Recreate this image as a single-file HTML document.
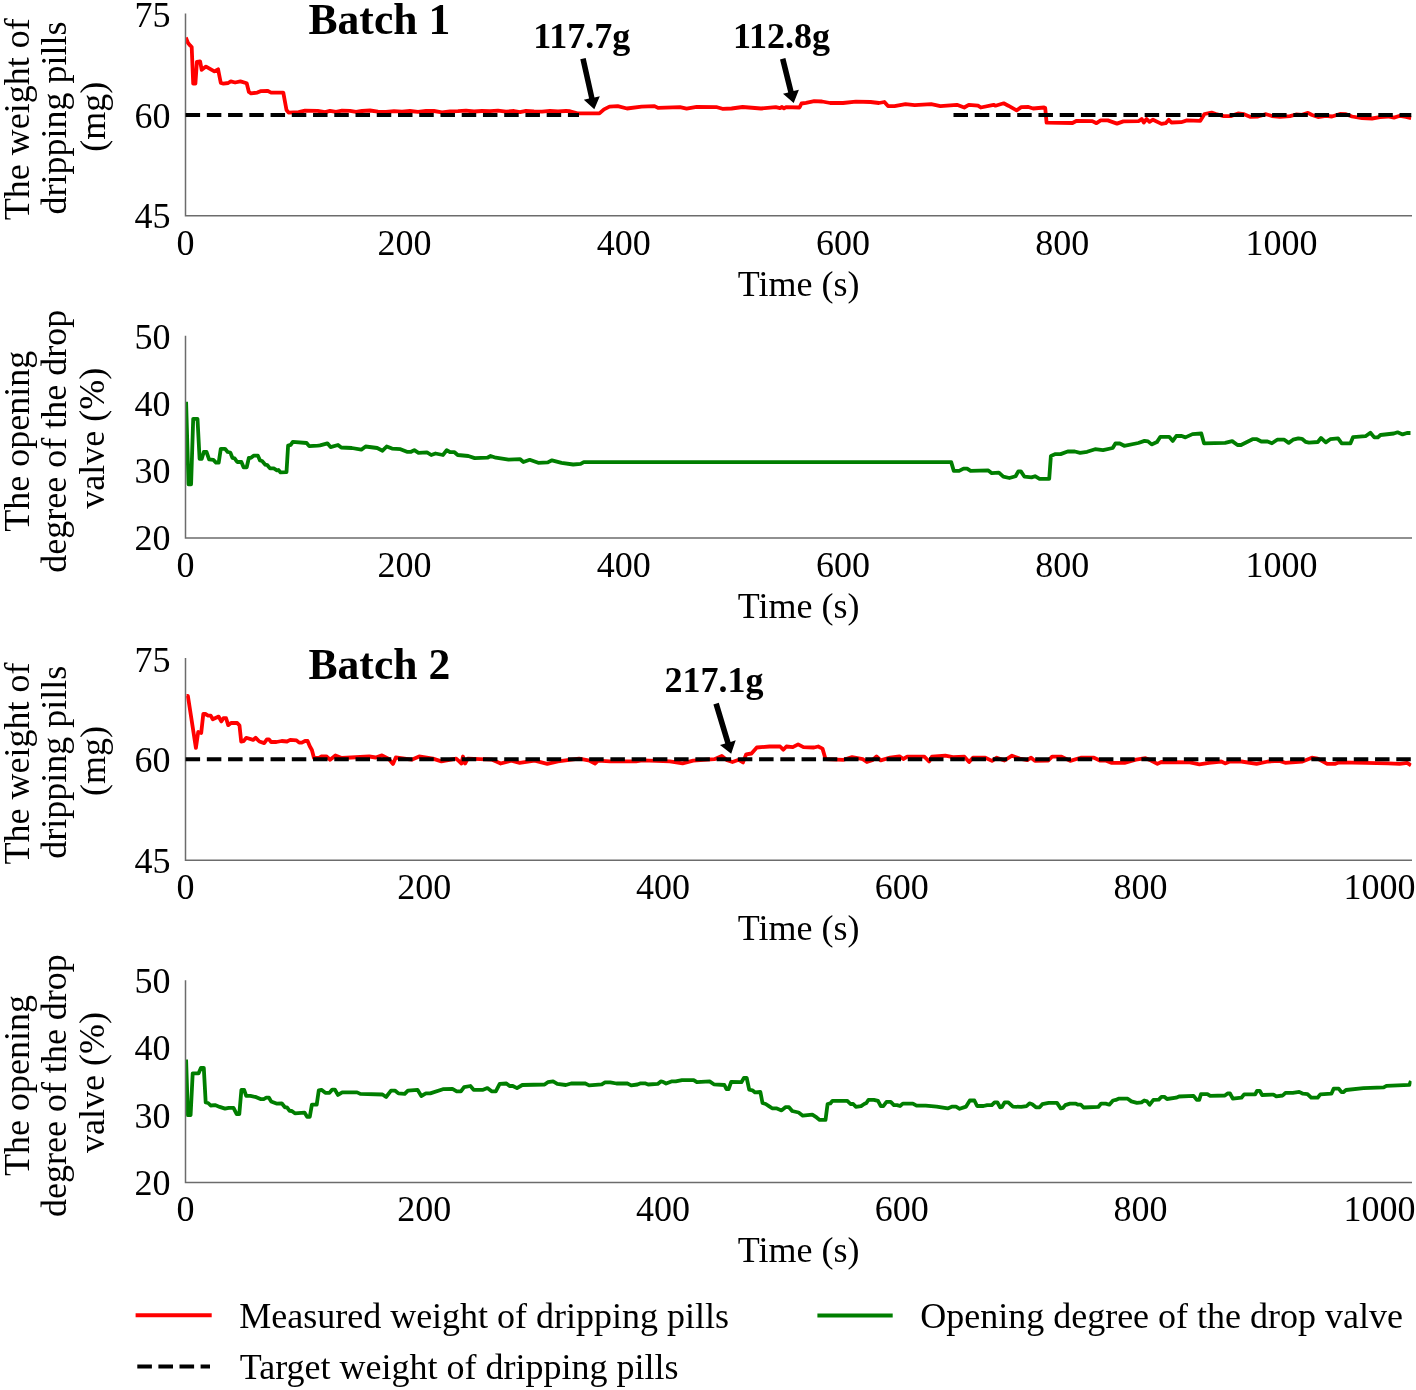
<!DOCTYPE html>
<html><head><meta charset="utf-8"><title>Figure</title>
<style>html,body{margin:0;padding:0;background:#fff}svg{display:block}</style></head>
<body>
<svg width="1416" height="1390" viewBox="0 0 1416 1390" font-family="Liberation Serif, Times New Roman, serif" font-size="36" fill="#000">
<rect width="1416" height="1390" fill="#fff"/>
<defs><clipPath id="pc"><rect x="186.1" y="0" width="1225.4" height="1390"/></clipPath></defs>
<path d="M185.5 13.6 V215.8 H1412.0" fill="none" stroke="#6c6c6c" stroke-width="1.5"/>
<path d="M185.5 335.8 V537.9 H1412.0" fill="none" stroke="#6c6c6c" stroke-width="1.5"/>
<path d="M185.5 658.0 V860.2 H1412.0" fill="none" stroke="#6c6c6c" stroke-width="1.5"/>
<path d="M185.5 980.2 V1182.4 H1412.0" fill="none" stroke="#6c6c6c" stroke-width="1.5"/>
<text x="170.5" y="27.3" text-anchor="end">75</text>
<text x="170.5" y="127.7" text-anchor="end">60</text>
<text x="170.5" y="228.2" text-anchor="end">45</text>
<text x="170.5" y="671.5999999999999" text-anchor="end">75</text>
<text x="170.5" y="772.0" text-anchor="end">60</text>
<text x="170.5" y="872.5" text-anchor="end">45</text>
<text x="170.5" y="349.1" text-anchor="end">50</text>
<text x="170.5" y="416.1" text-anchor="end">40</text>
<text x="170.5" y="483.2" text-anchor="end">30</text>
<text x="170.5" y="550.2" text-anchor="end">20</text>
<text x="170.5" y="993.4" text-anchor="end">50</text>
<text x="170.5" y="1060.4" text-anchor="end">40</text>
<text x="170.5" y="1127.5" text-anchor="end">30</text>
<text x="170.5" y="1194.5" text-anchor="end">20</text>
<text x="185.4" y="254.8" text-anchor="middle">0</text>
<text x="404.6" y="254.8" text-anchor="middle">200</text>
<text x="623.8" y="254.8" text-anchor="middle">400</text>
<text x="843.0" y="254.8" text-anchor="middle">600</text>
<text x="1062.2" y="254.8" text-anchor="middle">800</text>
<text x="1281.4" y="254.8" text-anchor="middle">1000</text>
<text x="185.4" y="576.8" text-anchor="middle">0</text>
<text x="404.6" y="576.8" text-anchor="middle">200</text>
<text x="623.8" y="576.8" text-anchor="middle">400</text>
<text x="843.0" y="576.8" text-anchor="middle">600</text>
<text x="1062.2" y="576.8" text-anchor="middle">800</text>
<text x="1281.4" y="576.8" text-anchor="middle">1000</text>
<text x="185.4" y="899.2" text-anchor="middle">0</text>
<text x="424.2" y="899.2" text-anchor="middle">200</text>
<text x="663.0" y="899.2" text-anchor="middle">400</text>
<text x="901.8" y="899.2" text-anchor="middle">600</text>
<text x="1140.6" y="899.2" text-anchor="middle">800</text>
<text x="1379.4" y="899.2" text-anchor="middle">1000</text>
<text x="185.4" y="1221.1" text-anchor="middle">0</text>
<text x="424.2" y="1221.1" text-anchor="middle">200</text>
<text x="663.0" y="1221.1" text-anchor="middle">400</text>
<text x="901.8" y="1221.1" text-anchor="middle">600</text>
<text x="1140.6" y="1221.1" text-anchor="middle">800</text>
<text x="1379.4" y="1221.1" text-anchor="middle">1000</text>
<text x="798.6" y="295.6" text-anchor="middle">Time (s)</text>
<text x="798.6" y="617.6" text-anchor="middle">Time (s)</text>
<text x="798.6" y="940.1" text-anchor="middle">Time (s)</text>
<text x="798.6" y="1261.9" text-anchor="middle">Time (s)</text>
<text transform="translate(28.5 119.2) rotate(-90)" text-anchor="middle">The weight of</text>
<text transform="translate(66.2 118) rotate(-90)" text-anchor="middle">dripping pills</text>
<text transform="translate(105.0 116.7) rotate(-90)" text-anchor="middle">(mg)</text>
<text transform="translate(28.5 441.3) rotate(-90)" text-anchor="middle">The opening</text>
<text transform="translate(66.4 441.3) rotate(-90)" text-anchor="middle">degree of the drop</text>
<text transform="translate(103.5 438.2) rotate(-90)" text-anchor="middle">valve (%)</text>
<text transform="translate(28.5 763.5) rotate(-90)" text-anchor="middle">The weight of</text>
<text transform="translate(66.2 762.3) rotate(-90)" text-anchor="middle">dripping pills</text>
<text transform="translate(105.0 761.0) rotate(-90)" text-anchor="middle">(mg)</text>
<text transform="translate(28.5 1085.6) rotate(-90)" text-anchor="middle">The opening</text>
<text transform="translate(66.4 1085.6) rotate(-90)" text-anchor="middle">degree of the drop</text>
<text transform="translate(103.5 1082.5) rotate(-90)" text-anchor="middle">valve (%)</text>
<polyline points="185.8,37.5 187.9,42.8 190.1,45.4 191.7,47.0 193.2,83.6 195.4,83.6 196.9,61.8 200.1,61.3 201.7,69.8 206.0,66.6 214.4,71.4 218.1,69.3 220.8,83.0 223.4,83.6 228.2,83.0 230.8,81.4 235.1,82.5 240.4,81.4 246.7,83.3 248.9,92.0 251.0,93.3 257.3,92.6 260.5,91.2 267.4,90.8 271.1,92.6 283.3,92.6 286.5,110.0 288.6,112.7 298.6,112.2 305.0,110.6 317.7,110.9 325.1,112.2 330.0,110.8 336.0,111.8 342.0,110.6 350.0,110.9 356.0,111.9 362.0,111.0 370.0,110.5 378.0,111.6 386.0,112.0 394.0,111.2 402.0,111.6 410.0,111.0 418.0,111.8 426.0,110.8 434.0,111.0 442.0,112.3 450.0,111.4 458.0,111.2 466.0,110.6 474.0,111.5 482.0,111.0 490.0,111.2 498.0,110.7 506.0,111.6 514.0,111.0 520.0,112.2 526.0,110.8 534.0,111.3 542.0,111.6 550.0,110.9 558.0,111.4 566.0,111.0 570.0,111.2 577.3,113.4 599.4,113.4 604.0,109.4 609.5,106.6 617.7,106.1 627.0,108.5 641.6,106.6 654.5,106.1 658.0,107.9 680.0,107.2 686.6,108.6 696.7,106.8 717.0,107.2 722.4,108.8 731.6,108.5 742.6,107.0 761.0,108.5 775.7,107.2 780.0,108.2 782.0,107.0 784.0,108.4 786.0,107.2 799.5,107.5 801.5,103.5 806.0,102.8 814.2,101.1 822.0,101.5 830.2,103.0 843.0,103.0 855.9,101.7 870.6,102.0 878.9,103.0 884.4,102.0 888.0,106.1 894.5,106.1 905.5,104.2 914.7,105.2 931.2,104.2 940.4,106.1 956.9,104.8 964.2,107.5 968.8,104.8 978.0,105.7 980.8,107.5 993.6,104.8 995.5,105.7 1003.7,103.3 1008.3,105.7 1016.6,110.3 1021.2,107.2 1028.5,107.0 1033.1,108.5 1044.1,107.5 1045.2,108.0 1046.6,122.7 1072.5,123.0 1076.7,120.8 1092.3,121.1 1096.5,123.2 1100.7,120.4 1107.8,120.4 1117.0,123.6 1123.3,121.4 1138.9,121.1 1141.7,119.0 1143.8,122.5 1146.6,119.0 1149.5,121.8 1153.0,119.7 1161.5,123.9 1165.7,123.2 1168.8,119.7 1171.4,122.5 1181.2,122.2 1186.9,120.4 1200.3,120.8 1204.5,114.0 1211.6,112.6 1216.0,114.0 1223.6,116.1 1230.7,116.1 1238.0,113.5 1244.0,114.2 1250.0,116.8 1258.0,116.5 1266.0,114.2 1272.0,116.0 1280.0,116.8 1290.0,116.2 1296.0,114.5 1302.0,114.8 1308.0,112.8 1312.0,115.0 1318.0,117.0 1326.0,115.8 1332.0,116.5 1340.0,114.0 1346.0,114.2 1352.0,116.5 1362.0,118.2 1372.0,118.5 1380.0,117.2 1388.0,116.5 1394.0,117.6 1400.0,115.8 1406.0,116.8 1411.2,118.2" fill="none" stroke="#ff0000" stroke-width="3.8" stroke-linejoin="round" stroke-linecap="butt" clip-path="url(#pc)"/>
<path d="M185.6 114.95 H579" stroke="#000" stroke-width="4" stroke-dasharray="14.5 6.74" fill="none"/>
<path d="M953.5 114.9 H1411.3" stroke="#000" stroke-width="4" stroke-dasharray="14.5 6.74" fill="none"/>
<polyline points="186.1,401.7 188.5,484.3 191.1,484.3 193.2,418.8 197.5,418.8 199.6,458.9 201.7,458.9 203.8,452.0 206.5,452.0 209.1,459.4 213.4,459.9 216.0,462.6 218.7,462.6 220.8,448.8 225.0,448.8 227.7,452.0 230.3,452.5 232.4,457.8 234.6,458.3 237.2,462.0 241.4,462.0 243.6,467.3 246.7,467.3 248.9,457.8 251.0,457.8 253.6,455.7 257.9,455.7 260.0,460.4 262.1,461.0 265.3,464.7 267.4,465.2 270.0,468.4 273.8,468.4 276.9,470.3 278.5,470.0 280.6,472.4 286.5,472.1 288.1,445.6 290.7,444.9 292.8,441.9 306.6,443.0 309.2,446.1 317.7,445.6 320.0,445.4 327.4,443.3 330.6,447.1 338.0,445.0 341.2,447.5 351.8,448.0 361.3,449.7 365.6,446.5 377.2,448.0 382.5,450.7 386.7,446.5 392.0,448.6 400.5,449.2 406.9,451.8 411.1,451.8 414.3,450.1 418.5,452.8 427.0,452.4 431.2,455.0 435.5,453.5 442.9,455.0 446.7,450.3 450.3,452.2 454.5,452.2 457.7,455.0 468.3,456.0 474.7,458.1 487.4,457.7 490.6,456.0 495.8,457.7 508.6,459.6 520.2,459.2 523.4,462.0 529.7,459.8 538.2,462.8 547.8,462.4 552.0,460.3 561.5,462.8 573.2,464.5 580.6,463.9 583.8,462.1 951.2,462.1 953.8,470.9 959.1,470.9 963.5,468.6 967.1,468.6 970.6,470.9 988.3,470.4 991.8,473.2 998.9,472.7 1003.3,476.7 1009.4,478.0 1015.6,476.2 1018.3,471.4 1020.9,471.4 1024.5,476.7 1031.5,477.4 1035.0,476.2 1039.5,478.9 1049.2,478.9 1050.9,455.9 1055.4,454.1 1060.6,454.1 1067.7,451.5 1074.8,451.5 1080.1,452.9 1087.1,451.8 1095.1,449.2 1103.0,450.1 1112.7,448.0 1115.4,443.5 1119.8,443.5 1124.2,445.8 1138.3,443.0 1144.5,440.9 1148.0,441.4 1151.6,444.4 1156.9,442.1 1160.4,436.8 1169.2,436.8 1172.8,440.9 1176.3,436.0 1181.0,435.8 1185.4,437.4 1192.5,434.1 1201.3,433.5 1204.0,443.3 1225.1,442.9 1232.2,441.1 1237.5,445.0 1241.0,445.0 1252.5,439.2 1256.9,439.2 1261.3,441.5 1267.5,441.5 1271.9,443.3 1277.2,439.7 1284.3,439.7 1288.7,442.9 1293.1,439.7 1298.4,438.3 1301.9,438.8 1305.5,441.8 1309.0,442.7 1317.8,442.0 1321.0,438.0 1325.8,442.4 1330.2,439.2 1338.1,438.3 1341.7,443.3 1350.5,443.3 1353.1,437.1 1365.5,436.2 1370.4,432.7 1374.3,437.4 1377.9,437.4 1380.5,435.0 1393.8,433.5 1397.6,432.3 1402.6,434.4 1407.0,433.0 1410.5,433.0" fill="none" stroke="#007e00" stroke-width="3.8" stroke-linejoin="round" stroke-linecap="butt" clip-path="url(#pc)"/>
<polyline points="186.5,696.0 187.9,696.0 195.9,747.9 198.2,732.0 201.2,733.0 203.3,714.0 205.4,714.0 208.1,715.6 210.7,715.6 212.8,719.3 218.7,716.6 221.3,721.4 223.4,718.2 226.1,718.2 228.2,725.1 231.4,722.8 237.2,723.0 239.5,725.6 241.2,741.5 243.6,741.2 246.2,737.8 253.1,739.9 255.7,737.8 259.4,741.5 264.2,743.1 266.9,739.4 269.0,739.4 271.1,742.0 276.4,742.0 281.7,741.0 287.0,741.5 290.2,739.9 296.5,740.4 299.2,742.6 301.8,742.6 305.0,741.0 307.6,741.0 309.8,746.3 311.9,750.0 314.0,757.9 318.8,757.9 321.9,756.3 326.2,756.3 330.1,759.7 335.4,755.4 341.8,758.0 369.3,756.5 375.7,757.5 382.0,755.4 388.4,758.6 393.0,763.9 395.8,757.5 411.7,759.7 419.1,756.5 432.9,758.6 441.4,761.4 456.2,758.6 461.5,763.5 463.0,756.5 465.1,763.5 467.8,758.6 492.2,759.7 500.7,763.5 511.3,760.7 519.7,762.8 534.6,760.7 547.3,763.9 557.9,761.4 579.1,758.6 589.7,760.7 595.0,763.5 598.1,760.7 610.0,761.4 636.0,761.3 642.4,760.3 669.9,761.3 682.6,763.4 693.2,760.7 714.4,759.2 721.8,756.0 727.1,760.3 732.4,762.0 738.8,759.8 743.0,762.4 746.2,754.3 751.5,753.5 756.8,747.5 769.5,746.5 780.1,746.5 783.3,749.7 786.4,746.5 792.8,747.1 798.1,744.4 803.4,747.1 814.0,747.5 818.2,746.5 822.5,748.6 825.6,759.2 843.6,759.8 852.1,757.1 862.7,759.2 866.9,762.0 872.2,760.3 876.5,756.4 880.7,760.3 890.0,757.7 899.5,756.3 903.3,759.0 907.2,756.7 924.3,756.7 929.1,761.5 931.9,756.7 945.3,755.7 952.9,757.1 964.4,756.7 969.1,762.0 972.9,757.7 985.3,757.7 992.0,760.9 996.8,757.7 1004.4,760.5 1012.0,755.7 1019.7,758.6 1027.3,760.1 1031.1,757.7 1034.9,760.9 1048.3,760.5 1052.1,756.7 1061.6,756.7 1070.2,760.9 1080.7,757.7 1094.0,757.7 1099.8,760.5 1105.5,760.5 1111.2,762.8 1124.6,762.8 1136.0,759.6 1145.5,758.2 1151.0,760.5 1157.4,763.9 1161.3,762.0 1189.9,762.4 1199.4,764.3 1208.9,762.8 1221.3,761.5 1225.1,763.4 1229.9,761.5 1241.3,761.5 1256.6,763.9 1268.0,761.5 1279.5,760.9 1285.2,762.8 1302.4,761.5 1311.9,757.7 1317.6,758.6 1327.2,763.9 1334.8,763.9 1338.6,762.4 1365.3,762.8 1388.2,763.4 1399.6,763.9 1407.2,762.8 1411.0,765.3" fill="none" stroke="#ff0000" stroke-width="3.8" stroke-linejoin="round" stroke-linecap="butt" clip-path="url(#pc)"/>
<path d="M185.6 759.3 H1411.3" stroke="#000" stroke-width="4" stroke-dasharray="14.5 6.74" fill="none"/>
<polyline points="186.1,1059.6 187.9,1115.2 190.6,1115.2 192.7,1073.4 198.5,1073.4 201.0,1067.8 203.8,1067.8 205.7,1102.5 208.1,1103.0 210.7,1105.5 215.0,1105.1 219.7,1106.9 225.0,1108.6 228.7,1107.8 233.5,1107.8 236.7,1114.2 239.3,1114.2 241.4,1089.8 244.1,1089.8 246.2,1095.9 250.4,1095.9 256.3,1097.2 260.5,1099.1 263.7,1099.1 266.3,1097.7 269.0,1097.7 271.1,1101.4 276.4,1103.6 281.7,1103.3 284.9,1107.3 287.0,1107.3 289.6,1110.8 291.8,1111.0 294.9,1113.3 304.5,1112.6 307.1,1116.8 309.8,1116.8 311.9,1104.6 316.7,1104.6 318.8,1090.3 321.4,1089.8 325.3,1092.8 329.5,1092.8 332.3,1089.6 334.8,1089.6 338.0,1094.9 342.2,1092.4 357.1,1092.4 360.3,1093.9 382.5,1094.5 386.1,1097.0 391.0,1090.7 395.2,1090.7 398.4,1093.4 404.7,1093.9 407.9,1090.7 417.5,1089.8 421.3,1096.0 425.9,1093.4 430.2,1093.4 442.9,1089.2 452.4,1088.8 456.7,1091.3 460.9,1091.3 464.1,1087.1 470.4,1086.0 473.6,1089.8 483.1,1089.8 487.4,1088.1 491.6,1091.3 495.8,1091.3 499.7,1083.9 506.4,1083.5 509.6,1086.0 512.8,1086.0 517.0,1088.1 522.3,1085.0 544.6,1084.5 547.8,1082.2 553.1,1081.4 557.3,1083.9 565.8,1085.0 571.1,1083.5 584.8,1083.3 589.1,1085.4 601.8,1084.3 605.0,1082.4 610.3,1082.4 616.4,1083.5 626.9,1083.3 631.2,1085.4 637.5,1084.5 640.7,1083.3 645.0,1083.3 648.1,1084.5 657.7,1083.9 660.8,1081.4 663.0,1081.8 666.1,1083.5 671.4,1081.4 675.7,1081.4 682.0,1080.1 693.7,1080.1 696.9,1082.2 709.6,1081.4 713.8,1084.3 724.4,1085.0 726.5,1089.2 728.6,1089.2 731.2,1081.8 741.4,1082.2 743.9,1078.0 746.7,1078.0 749.2,1089.6 752.4,1090.3 755.1,1092.4 760.4,1092.0 762.5,1103.0 765.7,1104.0 768.9,1106.1 772.1,1108.3 776.3,1108.3 781.6,1110.4 785.4,1107.2 789.0,1107.2 792.2,1111.0 798.6,1112.5 802.8,1115.7 812.3,1114.6 816.6,1117.4 819.7,1119.9 825.5,1119.9 827.6,1104.0 830.3,1103.4 832.5,1100.8 847.3,1100.8 850.5,1104.0 853.2,1104.0 855.8,1106.8 861.1,1106.1 864.2,1104.0 866.4,1103.0 868.5,1099.8 873.8,1099.8 878.0,1100.8 880.8,1106.1 883.3,1106.1 886.5,1101.9 890.7,1101.9 893.9,1105.1 897.1,1105.1 900.0,1106.0 902.8,1103.6 912.9,1103.6 916.5,1105.6 925.7,1105.6 936.7,1106.6 947.7,1108.4 952.3,1106.6 956.0,1106.6 959.7,1108.8 966.1,1106.6 969.8,1100.5 974.4,1100.5 977.1,1106.0 983.5,1106.0 987.2,1105.1 991.8,1105.1 994.6,1102.3 997.3,1102.3 1000.1,1107.3 1001.9,1106.9 1004.7,1102.3 1008.3,1102.3 1012.9,1106.6 1021.2,1106.9 1026.7,1106.0 1029.5,1103.3 1032.2,1104.2 1035.9,1107.3 1039.6,1107.3 1042.3,1104.2 1048.7,1102.9 1057.0,1102.9 1060.7,1108.4 1063.1,1107.8 1065.3,1105.1 1069.9,1103.6 1075.4,1103.6 1078.1,1104.7 1080.9,1104.7 1083.6,1107.5 1098.3,1106.9 1101.1,1103.6 1105.7,1103.6 1109.3,1104.7 1113.0,1100.5 1115.8,1099.9 1118.5,1098.7 1127.7,1098.7 1131.4,1101.4 1136.9,1102.9 1141.5,1102.3 1144.2,1100.5 1147.0,1101.4 1149.7,1104.7 1153.4,1099.9 1158.8,1099.6 1161.5,1096.8 1164.3,1096.8 1167.0,1099.0 1176.2,1097.7 1179.0,1096.5 1193.6,1095.9 1196.8,1099.9 1199.2,1099.9 1201.0,1094.1 1207.4,1094.1 1210.2,1095.9 1224.9,1095.5 1227.6,1093.5 1230.0,1093.5 1232.8,1098.7 1241.4,1097.7 1244.1,1094.4 1255.2,1094.4 1257.0,1090.8 1259.7,1090.8 1262.1,1095.0 1273.5,1094.6 1276.3,1096.3 1282.7,1095.5 1285.5,1092.8 1292.8,1092.8 1299.2,1091.9 1302.9,1093.7 1307.5,1094.1 1311.2,1097.7 1317.6,1097.7 1320.3,1094.4 1331.4,1093.7 1333.7,1088.6 1338.7,1088.6 1341.5,1092.2 1343.3,1092.2 1346.0,1090.0 1363.5,1088.2 1383.7,1087.3 1386.4,1085.8 1409.4,1084.9 1410.9,1080.8" fill="none" stroke="#007e00" stroke-width="3.8" stroke-linejoin="round" stroke-linecap="butt" clip-path="url(#pc)"/>
<text x="308.5" y="34.2" font-size="43.6" font-weight="bold">Batch 1</text>
<text x="308.5" y="678.5" font-size="43.6" font-weight="bold">Batch 2</text>
<text x="533.2" y="47.9" font-weight="bold">117.7g</text>
<text x="733" y="47.9" font-weight="bold">112.8g</text>
<text x="664.5" y="692.2" font-weight="bold">217.1g</text>
<polygon points="580.3,59.3 589.1,98.6 583.8,99.8 594.3,109.2 599.8,96.2 594.5,97.4 585.7,58.1" fill="#000"/>
<polygon points="780.0,59.5 788.2,92.4 783.0,93.7 793.7,102.9 798.9,89.8 793.6,91.1 785.4,58.1" fill="#000"/>
<polygon points="713.4,704.4 725.2,743.5 720.0,745.1 731.2,753.7 735.7,740.3 730.6,741.9 718.8,702.8" fill="#000"/>
<path d="M135.6 1315.3 H211.7" stroke="#ff0000" stroke-width="4"/>
<path d="M137.3 1366.4 H210" stroke="#000" stroke-width="4" stroke-dasharray="14.6 6.5"/>
<path d="M817.4 1315.6 H892.7" stroke="#007e00" stroke-width="4"/>
<text x="239.2" y="1327.8">Measured weight of dripping pills</text>
<text x="239.8" y="1378.8">Target weight of dripping pills</text>
<text x="920.2" y="1327.8">Opening degree of the drop valve</text>
</svg>
</body></html>
